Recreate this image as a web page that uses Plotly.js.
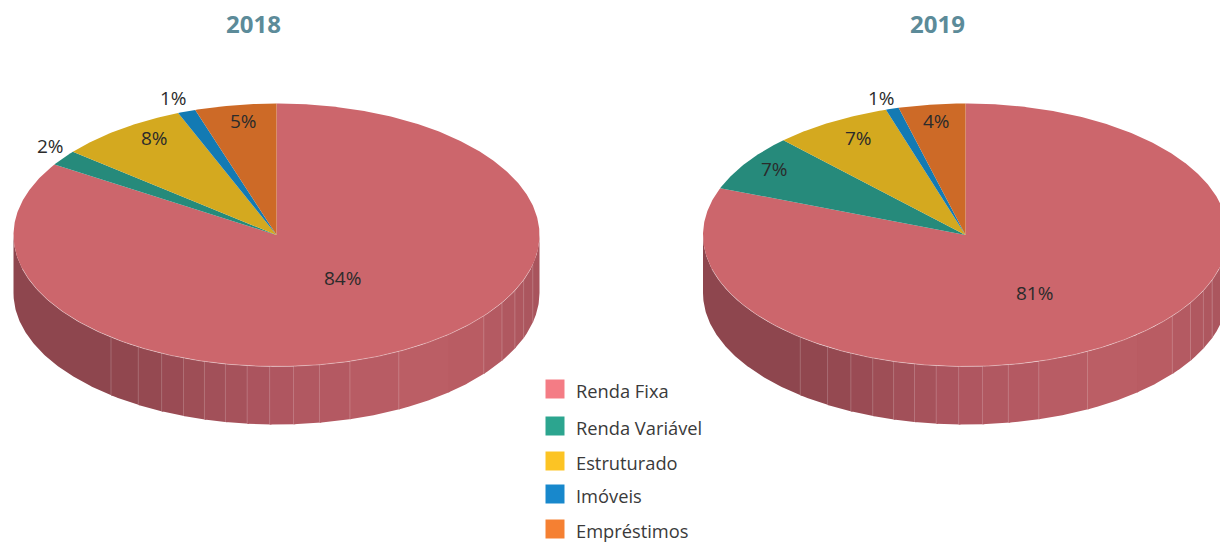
<!DOCTYPE html>
<html>
<head>
<meta charset="utf-8">
<script src="https://cdn.plot.ly/plotly-3.0.1.min.js"></script>
<style>html,body{margin:0;padding:0;background:#fff}#chart{width:1220px;height:544px}</style>
</head>
<body>
<div id="chart"></div>
<script>
// ---- data ----
const categories = ["Renda Fixa", "Renda Variável", "Estruturado", "Imóveis", "Empréstimos"];
const years = ["2018", "2019"];
const values2018 = [84, 1.9, 8, 1.1, 5];
const values2019 = [80.8, 7, 7.3, 0.8, 4.1];

// ---- styles ----
const topColors = ["#cc666c", "#268a7b", "#d4a91f", "#137ab3", "#cd6a27"];
const legendColors = ["#f47c85", "#2ca58f", "#fcc424", "#1888cc", "#f58032"];
const FONT = "Open Sans, Noto Sans, sans-serif";
const TEXT = "#2b2b2b";

// ---- layout geometry (pixel-scaled axes) ----
const pies = [
  {values: values2018, cx: 276.5, cy: 235, rx: 263, ry: 131.5, depth: 58, titleX: 253,
   labels: [[342.5,278],[50,146],[154,138],[173,98],[243,121]]},
  {values: values2019, cx: 965.5, cy: 235, rx: 262.5, ry: 131.5, depth: 58, titleX: 937.5,
   labels: [[1034,293],[774,169],[858,138],[881,98],[936,121]]}
];
const legendY = [389, 426, 461, 494, 529];
// wall facet boundaries, degrees from the front of the pie
const facetAngles = [-39,-31.7,-25.9,-20.7,-15.9,-11.2,-6.4,-1.5,3.7,9.4,16.2,27.7,40.8,52,59,65,70,77];
const wallStops = [[-90,[141,69,77]],[-39,[143,70,78]],[-28,[150,73,81]],[0,[174,86,96]],[30,[188,94,101]],[50,[184,92,99]],[62,[176,88,96]],[90,[165,83,91]]];

function wallColor(phi){
  for(let i=1;i<wallStops.length;i++){
    if(phi<=wallStops[i][0]){
      const [a,ca]=wallStops[i-1],[b,cb]=wallStops[i],t=(phi-a)/(b-a);
      return "rgb("+ca.map((c,k)=>Math.round(c+(cb[k]-c)*t)).join(",")+")";
    }
  }
  return "rgb("+wallStops[wallStops.length-1][1].join(",")+")";
}
const rad=d=>d*Math.PI/180;

function pt(p,deg,drop){ // deg clockwise from the top of the ellipse
  return [p.cx+p.rx*Math.sin(rad(deg)), p.cy-p.ry*Math.cos(rad(deg))+(drop||0)];
}
function arc(p,a,b,drop){
  const n=Math.max(2,Math.ceil(Math.abs(b-a)*2)),out=[];
  for(let i=0;i<=n;i++) out.push(pt(p,a+(b-a)*i/n,drop));
  return out;
}

const traces=[];
function poly(points,color,name){
  traces.push({type:"scatter",mode:"lines",x:points.map(q=>q[0]),y:points.map(q=>q[1]),
    fill:"toself",fillcolor:color,line:{width:0,color:color},hoverinfo:"skip",name:name,showlegend:false});
}

pies.forEach((p,pi)=>{
  // side wall: only the front half of the pie is visible (front = 180 deg)
  const edges=[-90].concat(facetAngles,[90]);
  for(let i=0;i<edges.length-1;i++){
    const a=180-edges[i],b=180-edges[i+1]-(i<edges.length-2?0.4:0); // small overlap hides seams
    poly(arc(p,a,b,0).concat(arc(p,b,a,p.depth)),wallColor((edges[i]+edges[i+1])/2),years[pi]+" wall");
  }
  // top slices from the values, clockwise from 12 o'clock
  const total=p.values.reduce((s,v)=>s+v,0);
  let start=0;
  p.values.forEach((v,i)=>{
    const sweep=v/total*360;
    poly([[p.cx,p.cy]].concat(arc(p,start,start+sweep,0),[[p.cx,p.cy]]),topColors[i],categories[i]);
    start+=sweep;
  });
  // facet lines and the light rim on the front edge
  const fx=[],fy=[];
  facetAngles.forEach(f=>{
    if(f===40.8) return; // this seam is barely visible in the drawing
    const t=pt(p,180-f,0),b=pt(p,180-f,p.depth);
    fx.push(t[0],b[0],null);fy.push(t[1],b[1],null);
  });
  traces.push({type:"scatter",mode:"lines",x:fx,y:fy,line:{width:1,color:"rgba(255,255,255,0.2)"},hoverinfo:"skip",showlegend:false});
  const rim=arc(p,105,255,0);
  traces.push({type:"scatter",mode:"lines",x:rim.map(q=>q[0]),y:rim.map(q=>q[1]),line:{width:1,color:"rgba(255,255,255,0.35)"},hoverinfo:"skip",showlegend:false});
});

// legend swatches
traces.push({type:"scatter",mode:"markers",x:categories.map(()=>555),y:legendY,
  marker:{symbol:"square",size:19,color:legendColors,line:{width:0}},hoverinfo:"skip",showlegend:false});

const annotations=[];
pies.forEach((p,pi)=>{
  annotations.push({x:p.titleX,y:23,xref:"x",yref:"y",xanchor:"center",yanchor:"middle",showarrow:false,
    text:"<b>"+years[pi]+"</b>",font:{family:FONT,size:24,color:"#5c8b99"}});
  p.values.forEach((v,i)=>annotations.push({x:p.labels[i][0],y:p.labels[i][1],xref:"x",yref:"y",xanchor:"center",yanchor:"middle",
    showarrow:false,text:Math.round(v)+"%",font:{family:FONT,size:19,color:TEXT}}));
});
categories.forEach((c,i)=>annotations.push({x:574,y:legendY[i]+1,xref:"x",yref:"y",xanchor:"left",yanchor:"middle",
  showarrow:false,text:c,font:{family:FONT,size:18.3,color:"#3a3a3a"}}));

const hidden={visible:false,fixedrange:true};
Plotly.newPlot("chart",traces,{
  width:1220,height:544,margin:{l:0,r:0,t:0,b:0},
  paper_bgcolor:"#fff",plot_bgcolor:"#fff",showlegend:false,
  xaxis:Object.assign({range:[0,1220]},hidden),
  yaxis:Object.assign({range:[544,0]},hidden),
  annotations:annotations
},{displayModeBar:false,staticPlot:true});
</script>
</body>
</html>
